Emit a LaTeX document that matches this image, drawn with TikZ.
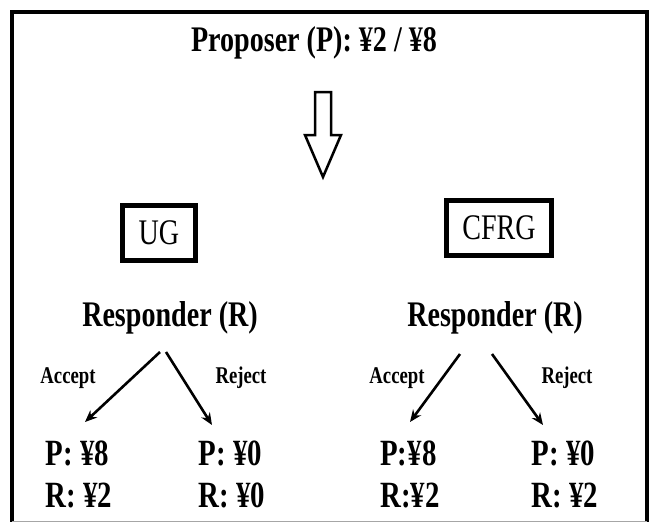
\documentclass[tikz,border=0pt]{standalone}
\usepackage{fontspec}
\setmainfont{Liberation Serif}[FakeStretch=0.78]
\usetikzlibrary{positioning,arrows.meta}

\begin{document}
\begin{tikzpicture}[x=1pt,y=-1pt,>={Stealth[length=12pt,width=10pt]},
    title node/.style={font=\fontsize{36}{40}\selectfont\bfseries,inner sep=0pt},
    game node/.style={draw,line width=4.5pt,font=\fontsize{36}{40}\selectfont,minimum height=55pt,inner xsep=16pt},
    resp node/.style={font=\fontsize{36}{40}\selectfont\bfseries,inner sep=0pt},
    choice node/.style={font=\fontsize{24}{28}\selectfont\bfseries,inner sep=0pt},
    pay node/.style={font=\fontsize{37}{40}\selectfont\bfseries,inner sep=0pt,align=left},
    choice/.style={->,line width=2.6pt}]
  \useasboundingbox (0,0) rectangle (657,522);
  % frame
  \draw[line width=4pt] (12,522) -- (12,12) -- (647,12) -- (647,522);
  \draw[black!35,line width=1pt] (12,521.5) -- (647,521.5);

  \node[title node] (prop) at (314,43) {Proposer (P): ¥2 / ¥8};
  % hollow arrow
  \draw[line width=2.5pt,line join=miter]
    (315,92) -- (331,92) -- (331,135) -- (341,135) -- (323,177) -- (305,135) -- (315,135) -- cycle;

  \node[game node] (ug) at (159,233) {UG};
  \node[game node] (cfrg) at (499,228) {CFRG};

  % ultimatum game
  \node[resp node] (respL) at (170,318) {Responder (R)};
  \node[choice node] (accL) at (68,378) {Accept};
  \node[choice node] (rejL) at (241,378) {Reject};
  \node[pay node] (pay1) at (79,474) {P: ¥8\\[2pt]R: ¥2};
  \node[pay node] (pay2) at (232,474) {P: ¥0\\[2pt]R: ¥0};
  \coordinate (a1) at (160,352); \coordinate (b1) at (85,422);
  \coordinate (a2) at (166,352); \coordinate (b2) at (212,425);
  \draw[choice] (a1) -- (b1);
  \draw[choice] (a2) -- (b2);

  % common-fate game
  \node[resp node] (respR) at (495,318) {Responder (R)};
  \node[choice node] (accR) at (397,378) {Accept};
  \node[choice node] (rejR) at (567,378) {Reject};
  \node[pay node] (pay3) at (410,474) {P:¥8\\[2pt]R:¥2};
  \node[pay node] (pay4) at (565,474) {P: ¥0\\[2pt]R: ¥2};
  \coordinate (a3) at (460,354); \coordinate (b3) at (410,422);
  \coordinate (a4) at (492,354); \coordinate (b4) at (543,425);
  \draw[choice] (a3) -- (b3);
  \draw[choice] (a4) -- (b4);
\end{tikzpicture}
\end{document}
